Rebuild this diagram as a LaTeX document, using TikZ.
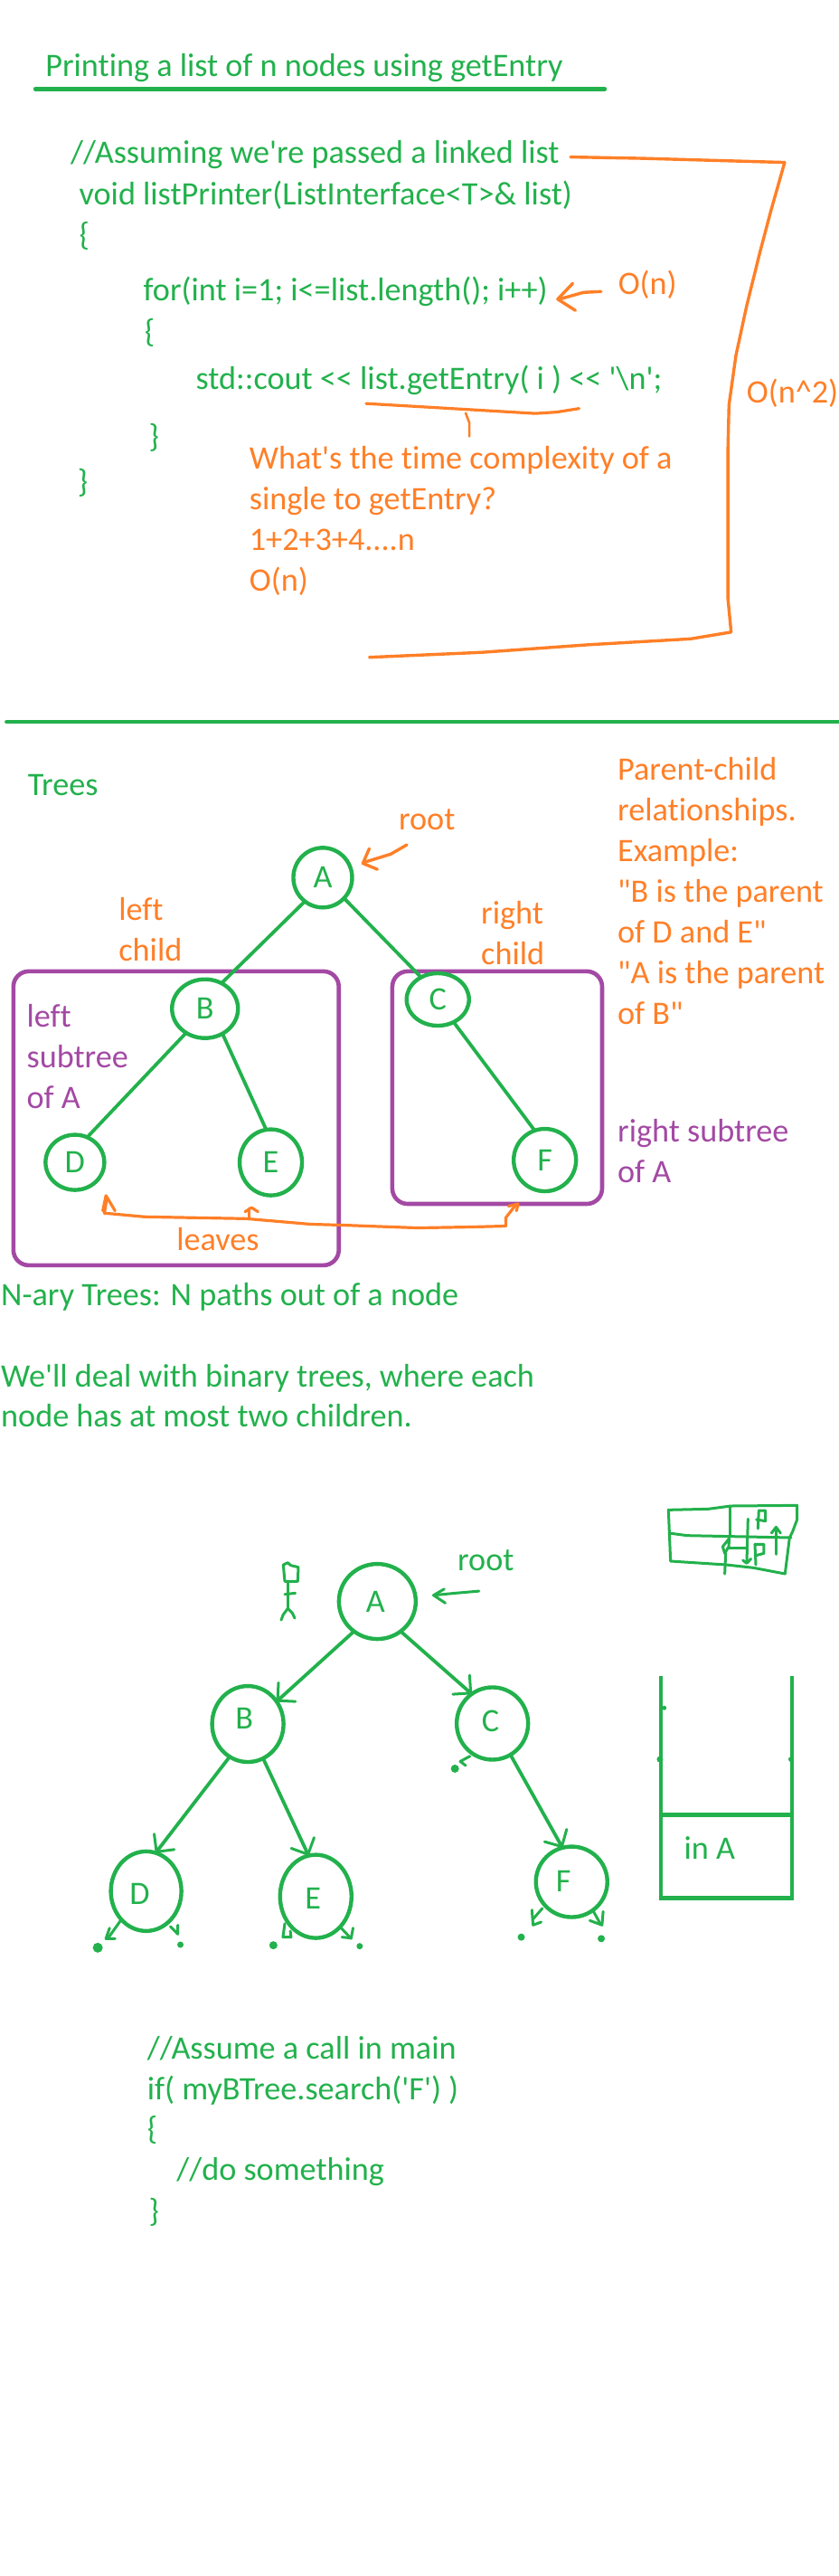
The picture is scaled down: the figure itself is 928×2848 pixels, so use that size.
\documentclass[tikz,border=0pt]{standalone}
\usepackage{fontspec}
\usetikzlibrary{shapes.geometric,arrows.meta}
\newfontfamily\cf{Carlito}[Ligatures=NoCommon]
\definecolor{pgreen}{HTML}{22B14C}
\definecolor{porange}{HTML}{FF7F27}
\definecolor{ppurple}{HTML}{A349A4}
\tikzset{
  zone one/.style={x=0.592pt,y=-0.4974pt},
  zone two/.style={x=0.592pt,y=-0.5102pt,shift={(0pt,-780pt)}},
  zone three/.style={x=0.592pt,y=-0.574pt,shift={(0pt,-1580pt)}},
  zone table/.style={x=0.3333pt,y=-0.3333pt,shift={(700pt,-1630pt)}},
  zone leaves/.style={x=0.408pt,y=-0.3333pt,shift={(60pt,-1980pt)}},
  zone man/.style={x=0.3333pt,y=-0.3333pt,shift={(280pt,-1690pt)}},
  txt/.style={anchor=base west,inner sep=0pt,outer sep=0pt},
  big/.style={txt,font=\cf\fontsize{36.2}{42}\selectfont},
  gtext/.style={big,text=pgreen},
  otext/.style={big,text=porange},
  ptext/.style={big,text=ppurple},
  stext/.style={big,text=pgreen},
  ink/.style={line width=#1,line cap=round,line join=round},
  gline/.style={draw=pgreen,ink=#1},
  oline/.style={draw=porange,ink=#1},
  pbox/.style={draw=ppurple,line width=4.6pt,rounded corners=17pt},
  circ/.style={ellipse,draw=pgreen,line width=4.4pt,inner sep=0pt,outer sep=0pt,text=pgreen},
  letterfont/.style={font=\cf\fontsize{36.2}{42}\selectfont,text=pgreen,inner sep=0pt},
  letterone/.style={label={[letterfont]center:#1}},
  edge one/.style={gline=3.8pt},
  edge two/.style={gline=3.8pt,-{Straight Barb[length=14pt,width=28pt,line width=3pt,round]}},
  dot/.style={circle,fill=pgreen,inner sep=0pt,minimum size=#1},
}
\begin{document}
\begin{tikzpicture}[x=1pt,y=-1pt]
\useasboundingbox (0,0) rectangle (928,2848);
% ---------- first section ----------
\begin{scope}[zone one]
\node[gtext] (title) at (85,170) {Printing a list of n nodes using getEntry};
\coordinate (ruleL) at (66,198); \coordinate (ruleR) at (1130,198);
\draw[gline=4.4pt] (ruleL) -- (ruleR);
\node[gtext] (c1) at (132,363) {//Assuming we're passed a linked list};
\node[gtext] (c2) at (148,455) {void listPrinter(ListInterface<T>\& list)};
\node[gtext] (c3) at (148,545) {\{};
\node[gtext] (c4) at (268,668) {for(int i=1; i<=list.length(); i++)};
\node[gtext] (c5) at (270,760) {\{};
\node[gtext] (c6) at (366,865) {std::cout << list.getEntry( i ) << '\textbackslash n';};
\node[gtext] (c7) at (278,995) {\}};
\node[gtext] (c8) at (145,1095) {\}};
\node[otext] (on) at (1155,655) {O(n)};
\node[otext] (on2) at (1395,895) {O(n\char`^2)};
\node[otext] (q1) at (466,1042) {What's the time complexity of a};
\node[otext] (q2) at (466,1133) {single to getEntry?};
\node[otext] (q3) at (466,1224) {1+2+3+4....n};
\node[otext] (q4) at (466,1313) {O(n)};
\draw[oline=3.4pt] (1123,648) -- (1090,650) -- (1045,665);
\draw[oline=3.4pt] (1070,630) -- (1042,665) -- (1075,690);
\draw[oline=3.4pt] (1066,349) -- (1200,352) -- (1466,361) -- (1440,470) -- (1420,560) -- (1395,680) -- (1375,790) -- (1362,900) -- (1360,1000) -- (1360,1330) -- (1366,1405) -- (1290,1420) -- (1100,1433) -- (900,1450) -- (690,1461);
\draw[oline=3.2pt] (684,897) -- (800,905) -- (900,912) -- (1000,919) -- (1040,916) -- (1082,908);
\draw[oline=2.6pt] (870,918) -- (877,940) -- (877,970);
\end{scope}
% ---------- second section ----------
\begin{scope}[zone two]
\coordinate (sepL) at (12,36); \coordinate (sepR) at (1580,36);
\draw[gline=4pt] (sepL) -- (sepR);
\node[gtext] (trees) at (52,195) {Trees};
\node[otext] (root1) at (745,270) {root};
\draw[pbox] (25,576) rectangle (633,1213);
\draw[pbox] (733,576) rectangle (1125,1080);
\node[circ,minimum width=65pt,minimum height=66pt,letterone=A] (A1) at (603,373) {};
\node[circ,minimum width=73pt,minimum height=65pt,letterone=B] (B1) at (383,657) {};
\node[circ,minimum width=69pt,minimum height=58pt,letterone=C] (C1) at (818,637) {};
\node[circ,minimum width=65pt,minimum height=61pt,letterone=D] (D1) at (140,990) {};
\node[circ,minimum width=69pt,minimum height=73pt,letterone=E] (E1) at (506,990) {};
\node[circ,minimum width=69pt,minimum height=69pt,letterone=F] (F1) at (1018,985) {};
\draw[edge one] (A1.233.6) -- (B1.57);
\draw[edge one] (A1.-44) -- (C1.127.7);
\draw[edge one] (B1.232.8) -- (D1.64.2);
\draw[edge one] (B1.-55) -- (E1.98);
\draw[edge one] (C1.-55) -- (F1.109);
\draw[oline=3.4pt] (760,302) -- (730,322) -- (680,340);
\draw[oline=3.4pt] (690,310) -- (678,342) -- (705,355);
\node[otext] (lc1) at (222,465) {left};
\node[otext] (lc2) at (222,553) {child};
\node[otext] (rc1) at (899,473) {right};
\node[otext] (rc2) at (899,561) {child};
\node[ptext] (ls1) at (50,697) {left};
\node[ptext] (ls2) at (50,785) {subtree};
\node[ptext] (ls3) at (50,873) {of A};
\node[ptext] (rs1) at (1154,945) {right subtree};
\node[ptext] (rs2) at (1154,1033) {of A};
\node[otext] (p1) at (1154,162) {Parent-child};
\node[otext] (p2) at (1154,250) {relationships.};
\node[otext] (p3) at (1154,338) {Example:};
\node[otext] (p4) at (1154,426) {"B is the parent};
\node[otext] (p5) at (1154,514) {of D and E"};
\node[otext] (p6) at (1154,602) {"A is the parent};
\node[otext] (p7) at (1154,690) {of B"};
\node[otext] (leaves) at (330,1180) {leaves};
\draw[oline=3.2pt] (945,1128) -- (880,1130) -- (780,1132) -- (640,1126) -- (580,1124) -- (460,1112) -- (270,1108) -- (195,1100) -- (200,1065);
\draw[oline=3.2pt] (192,1095) -- (198,1062) -- (215,1095);
\draw[oline=3.2pt] (465,1110) -- (465,1090);
\draw[oline=3.2pt] (458,1097) -- (470,1088) -- (482,1097);
\draw[oline=3.2pt] (945,1128) -- (945,1110) -- (965,1080);
\draw[oline=3.2pt] (950,1085) -- (968,1080) -- (965,1095);
\node[gtext] (nary) at (2,1300) {N-ary Trees: N paths out of a node};
\node[gtext] (bin1) at (2,1477) {We'll deal with binary trees, where each};
\node[gtext] (bin2) at (2,1563) {node has at most two children.};
\end{scope}
% ---------- third section ----------
\begin{scope}[zone three]
\node[circ,minimum width=85pt,minimum height=83pt,label={[letterfont,xshift=-2pt]center:A}] (A2) at (705,332) {};
\node[circ,minimum width=79pt,minimum height=84pt,label={[letterfont,xshift=-4pt,yshift=6pt]center:B}] (B2) at (463,568) {};
\node[circ,minimum width=79pt,minimum height=80pt,label={[letterfont,xshift=-2pt,yshift=3pt]center:C}] (C2) at (920,567) {};
\node[circ,minimum width=78pt,minimum height=88pt,label={[letterfont,xshift=-7pt,yshift=-3pt]center:D}] (D2) at (273,890) {};
\node[circ,minimum width=79pt,minimum height=92pt,label={[letterfont,xshift=-3pt,yshift=-2pt]center:E}] (E2) at (590,900) {};
\node[circ,minimum width=79pt,minimum height=78pt,label={[letterfont,xshift=-9pt,yshift=1pt]center:F}] (F2) at (1068,872) {};
\draw[edge two] (A2.232.3) -- (B2.38.7);
\draw[edge two] (A2.-52.3) -- (C2.125);
\draw[edge two] (B2.241.4) -- (D2.76.8);
\draw[edge two] (B2.-66.3) -- (E2.100);
\draw[edge two] (C2.-60) -- (F2.105);
\node[stext] (root2) at (855,272) {root};
\draw[gline=3pt] (895,312) -- (850,316) -- (810,320);
\draw[gline=3pt] (830,308) -- (810,320) -- (832,335);
% stack
\coordinate (st1) at (1235,475); \coordinate (st2) at (1235,903); \coordinate (st3) at (1480,903); \coordinate (st4) at (1480,475);
\draw[draw=pgreen,line width=4.4pt] (st1) -- (st2) -- (st3) -- (st4);
\draw[draw=pgreen,line width=4.4pt] (1235,743) -- (1480,743);
\node[dot=5pt] (s1) at (1241,537) {};
\node[dot=7pt] (s2) at (1233,636) {};
\node[dot=6pt] (s3) at (1478,636) {};
\node[stext] (ina) at (1278,828) {in A};
% small marks around C
\node[dot=9pt] (cd) at (850,654) {};
\draw[gline=3pt] (878,630) -- (860,640) -- (870,648);
% code
\node[stext] (m1) at (275,1213) {//Assume a call in main};
\node[stext] (m2) at (275,1291) {if( myBTree.search('F') )};
\node[stext] (m3) at (275,1369) {\{};
\node[stext] (m4) at (330,1447) {//do something};
\node[stext] (m5) at (278,1527) {\}};
\end{scope}
% null pointers under the leaves
\begin{scope}[zone leaves]
\draw[gline=3pt] (180,430) -- (145,490);
\draw[gline=3pt] (150,455) -- (140,490) -- (165,490);
\node[dot=11pt] (nd1) at (118,520) {};
\draw[gline=3pt] (315,450) -- (335,475) -- (335,445);
\node[dot=7pt] (nd2) at (342,510) {};
\draw[gline=3pt] (625,440) -- (620,485) -- (642,485) -- (640,465);
\node[dot=9pt] (ne1) at (594,512) {};
\draw[gline=3pt] (778,455) -- (805,490);
\draw[gline=3pt] (780,485) -- (805,488) -- (810,455);
\node[dot=7pt] (ne2) at (828,515) {};
\draw[gline=3pt] (1323,390) -- (1298,425);
\draw[gline=3pt] (1295,395) -- (1298,445) -- (1320,435);
\node[dot=8pt] (nf1) at (1266,485) {};
\draw[gline=3pt] (1462,400) -- (1480,440);
\draw[gline=3pt] (1452,430) -- (1485,445) -- (1488,400);
\node[dot=8pt] (nf2) at (1483,490) {};
\end{scope}
% stick figure
\begin{scope}[zone man]
\draw[gline=3pt] (100,120) -- (115,113) -- (125,122) -- (150,128) -- (148,175) -- (105,175) -- cycle;
\draw[gline=3pt] (115,175) -- (115,265);
\draw[gline=3pt] (105,218) -- (140,214);
\draw[gline=3pt] (115,265) -- (100,285) -- (93,303);
\draw[gline=3pt] (115,265) -- (130,280) -- (138,297);
\end{scope}
% little table sketch
\begin{scope}[zone table]
\draw[gline=3pt] (118,118) -- (250,115) -- (325,105) -- (545,103) -- (545,150) -- (530,190) -- (520,210) -- (505,330) -- (400,310) -- (310,300) -- (125,288) -- cycle;
\draw[gline=3pt] (323,105) -- (323,205);
\draw[gline=3pt] (120,195) -- (180,203) -- (525,210);
\draw[gline=3pt] (320,212) -- (298,240) -- (305,262) -- (318,240) -- (320,212);
\draw[gline=3pt] (308,262) -- (305,330);
\draw[gline=3pt] (315,245) -- (375,245);
\draw[gline=3pt] (382,148) -- (378,292);
\draw[gline=3pt] (365,285) -- (378,295) -- (392,280);
\draw[gline=3pt] (418,120) -- (415,180);
\draw[gline=3pt] (418,120) -- (440,120) -- (440,155) -- (410,150);
\draw[gline=3pt] (405,232) -- (408,300);
\draw[gline=3pt] (405,232) -- (435,232) -- (435,262) -- (405,270);
\draw[gline=3pt] (475,265) -- (475,180);
\draw[gline=3pt] (460,195) -- (475,175) -- (490,195);
\end{scope}
\end{tikzpicture}
\end{document}
